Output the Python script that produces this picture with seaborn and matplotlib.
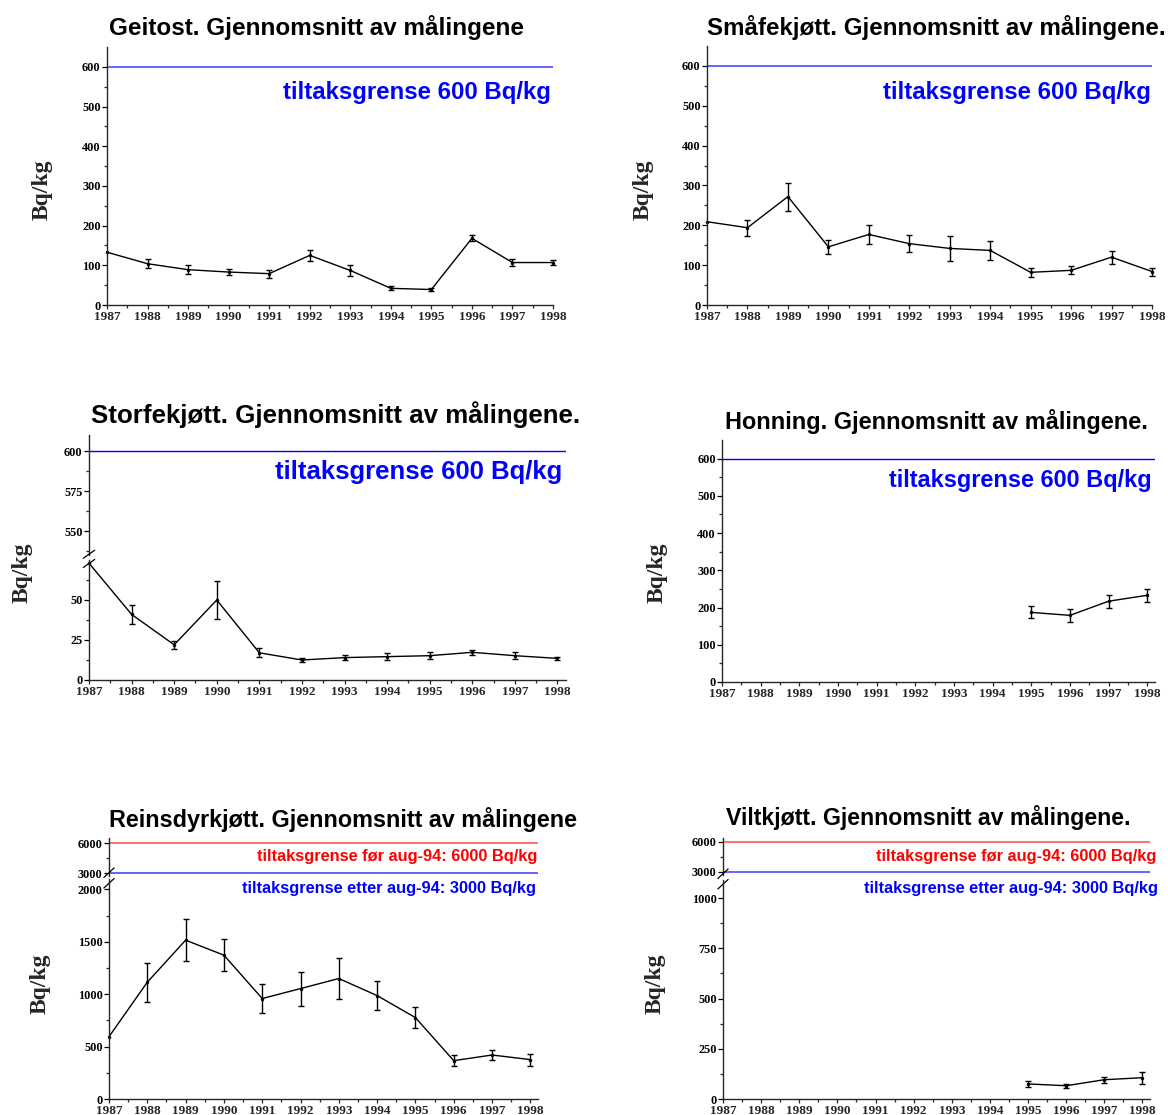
import numpy as np
import pandas as pd
import matplotlib
matplotlib.use("Agg")
import matplotlib.pyplot as plt
import seaborn as sns
from matplotlib.ticker import MultipleLocator, FixedLocator

# ---------------- data ----------------
years = list(range(1987, 1999))
year_labels = [str(y) for y in years]

geitost_mean = [133, 104, 89, 83, 79, 125, 87, 42, 39, 168, 107, 107]
geitost_err = [0, 12, 11, 8, 10, 13, 13, 5, 3, 8, 9, 6]

smaafe_mean = [209, 194, 272, 146, 177, 154, 142, 137, 82, 87, 120, 84]
smaafe_err = [0, 20, 35, 18, 23, 22, 31, 23, 12, 10, 16, 10]

storfe_mean = [73, 41, 22, 50, 17, 12.5, 14, 14.6, 15.2, 17.3, 15.2, 13.5]
storfe_err = [0, 6, 2.5, 12, 2.7, 1.5, 1.6, 2, 2, 1.7, 2.2, 1]

honning_years = [1995, 1996, 1997, 1998]
honning_mean = [187, 179, 217, 233]
honning_err = [16, 17, 17, 17]

rein_mean = [595, 1115, 1516, 1373, 959, 1054, 1150, 987, 777, 366, 420, 376]
rein_err = [0, 185, 200, 150, 135, 163, 195, 137, 102, 55, 50, 57]

vilt_years = [1995, 1996, 1997, 1998]
vilt_mean = [75, 66, 96, 106]
vilt_err = [13, 10, 14, 30]

limit_600 = 600
limit_before = 6000
limit_after = 3000

titles = [
    "Geitost. Gjennomsnitt av målingene",
    "Småfekjøtt. Gjennomsnitt av målingene.",
    "Storfekjøtt. Gjennomsnitt av målingene.",
    "Honning. Gjennomsnitt av målingene.",
    "Reinsdyrkjøtt. Gjennomsnitt av målingene",
    "Viltkjøtt. Gjennomsnitt av målingene.",
]
ylabel = "Bq/kg"
txt_600 = "tiltaksgrense 600 Bq/kg"
txt_before = "tiltaksgrense før aug-94: 6000 Bq/kg"
txt_after = "tiltaksgrense etter aug-94: 3000 Bq/kg"

# ---------------- style ----------------
sns.set_theme(style="ticks")
plt.rcParams['font.family'] = ['Liberation Serif', 'DejaVu Serif']
plt.rcParams['font.weight'] = 'bold'
plt.rcParams['axes.linewidth'] = 1.0

SANS = ['Liberation Sans', 'DejaVu Sans']
SERIF = ['Liberation Serif', 'DejaVu Serif']
BLUE_LINE = '#3a3aff'
RED_LINE = '#ff4a4a'

W, H = 1168, 1115
fig = plt.figure(figsize=(W / 100, H / 100), dpi=100)
fig.patch.set_facecolor('white')


def px_axes(x0, x1, ytop, ybot):
    return fig.add_axes([x0 / W, 1 - ybot / H, (x1 - x0) / W, (ybot - ytop) / H])


def ftext(x, y, s, **kw):
    fig.text(x / W, 1 - y / H, s, **kw)


def style_y(ax, major, minor):
    ax.yaxis.set_major_locator(FixedLocator(major))
    ax.yaxis.set_minor_locator(FixedLocator(minor))
    ax.tick_params(axis='y', which='major', direction='out', length=3.5,
                   width=0.9, pad=1.0, labelsize=8.8, colors='black')
    ax.tick_params(axis='y', which='minor', direction='out', length=2,
                   width=0.9)
    ax.spines['top'].set_visible(False)
    ax.spines['right'].set_visible(False)
    ax.set_facecolor('none')
    ax.set_ylabel('')
    ax.set_xlabel('')


def style_x(ax, right):
    ax.set_xlim(1987, right)
    ax.set_xticks(years)
    ax.set_xticklabels(year_labels)
    ax.xaxis.set_minor_locator(FixedLocator([y + 0.5 for y in years[:-1]]))
    ax.tick_params(axis='x', which='major', direction='out', length=3,
                   width=0.9, pad=1.0, labelsize=9.5)
    ax.tick_params(axis='x', which='minor', direction='out', length=2,
                   width=0.9)


def hide_x(ax):
    ax.spines['bottom'].set_visible(False)
    ax.tick_params(axis='x', which='both', bottom=False, labelbottom=False)


def draw_series(ax, xs, ys, errs):
    df = pd.DataFrame({"year": xs, "value": ys, "err": errs})
    sns.lineplot(data=df, x="year", y="value", ax=ax, color='black',
                 linewidth=1.0, marker='o', markersize=2.5,
                 markeredgewidth=0, errorbar=None, clip_on=False)
    e = df[df["err"] > 0]
    ax.errorbar(e["year"], e["value"], yerr=e["err"], fmt='none',
                ecolor='black', elinewidth=1.0, capsize=2.5, capthick=1.0,
                clip_on=False)


def break_marks(ax_low):
    # small "//" on the y spine at the top of the lower axis
    d = 0.012
    kw = dict(transform=ax_low.transAxes, color='black', lw=0.9, clip_on=False)
    bb = ax_low.get_position()
    asp = (bb.width * W) / (bb.height * H)
    dy = d * asp
    ax_low.plot([-d, d], [1 + 0.3 * dy, 1 + 1.3 * dy + 0.02], **kw)
    ax_low.plot([-d, d], [1 - 0.9 * dy - 0.02, 1 + 0.1 * dy], **kw)


def ylabel_text(x, y):
    ftext(x, y, ylabel, rotation=90, ha='center', va='center',
          fontsize=17, fontweight='bold', family=SERIF)


def title_text(x, y, s, size=17.5):
    ftext(x, y, s, ha='center', va='center', fontsize=size,
          fontweight='bold', family=SANS, color='black')


# ---------------- panel 1: Geitost ----------------
ax1 = px_axes(107, 553, 47, 305)
draw_series(ax1, years, geitost_mean, geitost_err)
ax1.axhline(limit_600, color=BLUE_LINE, lw=1.1)
ax1.set_ylim(0, 650)
style_y(ax1, [0, 100, 200, 300, 400, 500, 600], list(range(50, 650, 100)))
style_x(ax1, 1998)
title_text(316, 27, titles[0])
ylabel_text(42, 190)
ftext(551, 93, txt_600, ha='right', va='center', fontsize=17.3,
      fontweight='bold', family=SANS, color='#0000ff')

# ---------------- panel 2: Småfekjøtt ----------------
ax2 = px_axes(707, 1152, 46, 305)
draw_series(ax2, years, smaafe_mean, smaafe_err)
ax2.axhline(limit_600, color=BLUE_LINE, lw=1.1)
ax2.set_ylim(0, 650)
style_y(ax2, [0, 100, 200, 300, 400, 500, 600], list(range(50, 650, 100)))
style_x(ax2, 1998)
title_text(936, 27, titles[1], size=17.4)
ylabel_text(643, 190)
ftext(1151, 92, txt_600, ha='right', va='center', fontsize=17.3,
      fontweight='bold', family=SANS, color='#0000ff')

# ---------------- panel 3: Storfekjøtt (broken axis) ----------------
ax3u = px_axes(89, 566, 435, 555)
ax3l = px_axes(89, 566, 560, 680)
ax3u.axhline(limit_600, color='#0000ff', lw=1.0)
ax3u.set_ylim(535, 610)
ax3u.set_xlim(1987, 1998.2)
style_y(ax3u, [550, 575, 600], [537.5, 562.5, 587.5])
hide_x(ax3u)
draw_series(ax3l, years, storfe_mean, storfe_err)
ax3l.set_ylim(0, 75)
style_y(ax3l, [0, 25, 50], [12.5, 37.5, 62.5])
style_x(ax3l, 1998.2)
break_marks(ax3l)
title_text(336, 415, titles[2], size=18.6)
ylabel_text(22, 573)
ftext(562, 472, txt_600, ha='right', va='center', fontsize=18.5,
      fontweight='bold', family=SANS, color='#0000ff')

# ---------------- panel 4: Honning ----------------
ax4 = px_axes(722, 1155, 440, 682)
draw_series(ax4, honning_years, honning_mean, honning_err)
ax4.axhline(limit_600, color='#0000ff', lw=1.0)
ax4.set_ylim(0, 650)
style_y(ax4, [0, 100, 200, 300, 400, 500, 600], list(range(50, 650, 100)))
style_x(ax4, 1998.2)
title_text(936, 421, titles[3], size=16.9)
ylabel_text(657, 573)
ftext(1152, 480, txt_600, ha='right', va='center', fontsize=16.9,
      fontweight='bold', family=SANS, color='#0000ff')

# ---------------- panel 5: Reinsdyrkjøtt (broken axis) ----------------
ax5u = px_axes(109, 538, 838, 876)
ax5l = px_axes(109, 538, 879, 1099)
ax5u.axhline(limit_before, color=RED_LINE, lw=1.1)
ax5u.axhline(limit_after, color=BLUE_LINE, lw=1.1)
ax5u.set_ylim(2700, 6500)
ax5u.set_xlim(1987, 1998.2)
style_y(ax5u, [3000, 6000], [4500])
hide_x(ax5u)
draw_series(ax5l, years, rein_mean, rein_err)
ax5l.set_ylim(0, 2100)
style_y(ax5l, [0, 500, 1000, 1500, 2000], [250, 750, 1250, 1750])
style_x(ax5l, 1998.2)
break_marks(ax5l)
title_text(343, 819, titles[4], size=16.8)
ylabel_text(40, 984)
ftext(537, 857, txt_before, ha='right', va='center', fontsize=11.8,
      fontweight='bold', family=SANS, color='#ff0000')
ftext(536, 889, txt_after, ha='right', va='center', fontsize=11.8,
      fontweight='bold', family=SANS, color='#0000ff')

# ---------------- panel 6: Viltkjøtt (broken axis) ----------------
ax6u = px_axes(723, 1150, 838, 875)
ax6l = px_axes(723, 1150, 880, 1099)
ax6u.axhline(limit_before, color=RED_LINE, lw=1.1)
ax6u.axhline(limit_after, color=BLUE_LINE, lw=1.1)
ax6u.set_ylim(2700, 6400)
ax6u.set_xlim(1987, 1998.2)
style_y(ax6u, [3000, 6000], [4500])
hide_x(ax6u)
draw_series(ax6l, vilt_years, vilt_mean, vilt_err)
ax6l.set_ylim(0, 1090)
style_y(ax6l, [0, 250, 500, 750, 1000], [125, 375, 625, 875])
style_x(ax6l, 1998.2)
break_marks(ax6l)
title_text(928, 817, titles[5], size=16.7)
ylabel_text(655, 984)
ftext(1156, 856, txt_before, ha='right', va='center', fontsize=11.8,
      fontweight='bold', family=SANS, color='#ff0000')
ftext(1158, 889, txt_after, ha='right', va='center', fontsize=11.8,
      fontweight='bold', family=SANS, color='#0000ff')

fig.savefig("out.png", dpi=100, facecolor='white')
